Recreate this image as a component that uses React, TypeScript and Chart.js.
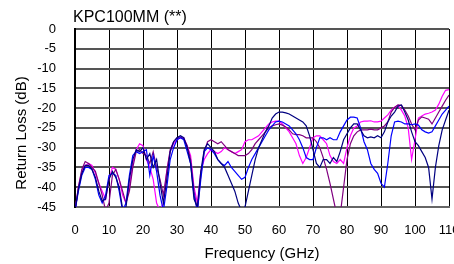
import React, { useEffect, useRef } from "react";
import { Chart, registerables } from "chart.js";

Chart.register(...registerables);

const TITLE = "KPC100MM (**)";
const X_TITLE = "Frequency (GHz)";
const Y_TITLE = "Return Loss (dB)";

const freqs = [
  0, 1, 2, 3, 4, 5, 6, 7, 8, 9, 10, 11, 12, 13, 14, 15, 16, 17, 18, 19, 20,
  21, 22, 23, 24, 25, 26, 27, 28, 29, 30, 31, 32, 33, 34, 35, 36, 37, 38, 39, 40,
  41, 42, 43, 44, 45, 46, 47, 48, 49, 50, 51, 52, 53, 54, 55, 56, 57, 58, 59, 60,
  61, 62, 63, 64, 65, 66, 67, 68, 69, 70, 71, 72, 73, 74, 75, 76, 77, 78, 79, 80,
  81, 82, 83, 84, 85, 86, 87, 88, 89, 90, 91, 92, 93, 94, 95, 96, 97, 98, 99, 100,
  101, 102, 103, 104, 105, 106, 107, 108, 109, 110,
];

const magenta = [
  -46, -40, -36, -34.5, -34, -34.5, -36.5, -39, -41, -43, -38,
  -35, -35.5, -38, -42, -44, -40, -34, -30.5, -29, -29.5,
  -33, -35, -38, -44, -46, -44, -36, -31, -29, -28,
  -27.5, -27.5, -29.5, -32, -40, -44, -36, -33, -31.5, -30.5,
  -31, -31.5, -31, -30, -30.5, -31, -31.5, -31, -30.5, -28.5,
  -28, -28, -27.5, -27, -26, -25, -24, -23.5, -23.3, -23.3,
  -24, -25, -26, -27.5, -29, -32, -34, -32.5, -30, -27.5,
  -27, -27, -28, -29, -32, -33.5, -34, -33, -34, -30,
  -27, -25, -24.5, -23.5, -23.3, -23.3, -23.2, -23.5, -23.5, -23.3,
  -22.5, -21.7, -20.5, -19.8, -19.3, -20.5, -22, -25, -33, -28,
  -22.5, -22, -21.5, -21.3, -21, -20.5, -19, -17, -15.5, -15.3,
];

const purple = [
  -46, -40, -35.5, -33.5, -34, -35, -36, -39, -42, -46, -44,
  -37, -35.5, -38, -41, -44, -41, -35, -31, -30.5, -31.5,
  -32, -34, -31, -35, -38, -42, -36, -30.5, -28.5, -27.5,
  -27.3, -27.8, -29.5, -33, -41, -46, -37, -31, -28.5, -28,
  -28.5, -29, -28.5, -29.5, -30.5, -31, -31.5, -32, -32, -32,
  -31.5, -30.5, -29, -28, -27, -26, -25, -24.5, -24.2, -24,
  -24.3, -24.8, -25.5, -26.5, -26.7, -26.7, -27, -27.5, -27.5, -27.5,
  -28.5, -30, -32.5, -35.5, -39, -43, -47, -47, -40, -33,
  -29, -27, -26, -25.5, -25.5, -25.5, -25.3, -25.5, -25.5, -25,
  -24.5, -23.5, -21, -19.8, -19.2, -19.3, -20.5, -22, -24, -25.5,
  -23, -22.2, -22.5, -22.8, -24, -22.5, -21, -19.5, -18, -16.7,
];

const blue = [
  -46, -41, -37, -35, -35, -35.5, -38, -42, -44, -42, -37,
  -36.5, -37, -41, -46, -44, -37, -32, -31, -31.5, -31,
  -30.5, -37, -32, -36, -42, -46, -40, -33, -30, -28,
  -27.5, -28, -31, -34, -42, -46, -38, -31, -30, -30.5,
  -31.5, -33, -34, -34.5, -33.5, -35, -36, -37, -38, -37.5,
  -35, -33, -31.5, -30, -28.5, -27, -25.5, -24.5, -23.5, -23.3,
  -23.5, -24, -24.5, -25.5, -26.5, -28, -30, -32.5, -33, -33,
  -30, -27.5, -27.5, -28, -27.5, -28, -28, -26, -24.5, -23,
  -22.3, -22.3, -22.5, -25, -28.5, -30.5, -34, -35.5, -36.5, -39,
  -40, -34, -27, -23.5, -23.3, -23.5, -24, -24, -24.2, -24,
  -24.3, -25.5, -26, -26.3, -26, -24.5, -23, -21.5, -20.5, -19.5,
];

const navy = [
  -46, -40.5, -36.5, -34.5, -34.5, -35.5, -37.5, -41, -43.5, -43, -38,
  -36, -37.5, -40, -45.5, -45, -38, -33, -30.5, -31, -30,
  -33, -31.5, -35, -33, -39, -44, -38, -31, -28.5, -27.5,
  -27, -27.5, -30, -34, -43, -45, -36, -30.5, -29, -30,
  -31, -33, -34, -35, -37, -39, -41, -44, -46, -45,
  -41, -37, -33, -30, -28, -26, -24.5, -22.5, -21.5, -21,
  -21, -21.2, -21.5, -22, -22.5, -23, -23.5, -24.5, -27, -30.5,
  -34, -35, -33, -33, -34, -32.5, -33.5, -31, -28, -26.5,
  -25, -24, -24, -25.5, -27, -27.5, -27.3, -27.5, -27, -27.5,
  -26, -23.5, -22, -21, -19.5, -19.2, -21, -23, -26, -28.5,
  -29.5, -31, -32.5, -35, -43, -35, -29.5, -25.5, -23, -20.5,
];

const xTicks = [0, 10, 20, 30, 40, 50, 60, 70, 80, 90, 100, 110];
const yTicks = [0, -5, -10, -15, -20, -25, -30, -35, -40, -45];

const FONT = '"Liberation Sans", Arial, sans-serif';

const textPlugin = {
  id: "texts",
  afterDraw(chart: any) {
    const { ctx, chartArea } = chart;
    ctx.save();
    ctx.fillStyle = "#000";
    ctx.font = `16px ${FONT}`;
    ctx.textAlign = "left";
    ctx.textBaseline = "alphabetic";
    ctx.fillText(TITLE, chartArea.left - 2, 22);
    ctx.font = `15px ${FONT}`;
    ctx.textAlign = "center";
    ctx.fillText(X_TITLE, (chartArea.left + chartArea.right) / 2, 258);
    ctx.translate(26, 133);
    ctx.rotate(-Math.PI / 2);
    ctx.fillText(Y_TITLE, 0, 0);
    ctx.restore();
  },
};

function toPoints(vals: number[]) {
  return freqs.map((f, i) => ({ x: f, y: vals[i] }));
}

export default function App() {
  const ref = useRef<HTMLCanvasElement>(null);
  useEffect(() => {
    if (!ref.current) return;
    const mk = (label: string, vals: number[], color: string) => ({
      label,
      data: toPoints(vals),
      borderColor: color,
      backgroundColor: color,
      borderWidth: 1.2,
      pointRadius: 0,
      tension: 0,
      fill: false,
    });
    const chart = new Chart(ref.current, {
      type: "line",
      data: {
        datasets: [
          mk("navy", navy, "#000080"),
          mk("blue", blue, "#0000ff"),
          mk("purple", purple, "#800080"),
          mk("magenta", magenta, "#ff00ff"),
        ],
      },
      options: {
        animation: false,
        responsive: false,
        devicePixelRatio: 1,
        layout: { padding: { top: 29, right: 31, left: 0, bottom: 0 } },
        plugins: {
          legend: { display: false },
          title: { display: false },
          tooltip: { enabled: false },
        },
        scales: {
          x: {
            type: "linear",
            min: 0,
            max: 110,
            afterBuildTicks: (s: any) => {
              s.ticks = xTicks.map((v) => ({ value: v }));
            },
            afterFit: (s: any) => {
              s.height = 57;
            },
            ticks: {
              font: { family: FONT, size: 13 },
              color: "#000",
              padding: 16,
              maxRotation: 0,
              autoSkip: false,
            },
            grid: { color: "#000", lineWidth: 1, drawTicks: false },
            border: { display: true, color: "#666", width: 2 },
          },
          y: {
            type: "linear",
            min: -45,
            max: 0,
            afterBuildTicks: (s: any) => {
              s.ticks = yTicks.map((v) => ({ value: v }));
            },
            afterFit: (s: any) => {
              s.width = 75;
            },
            ticks: {
              font: { family: FONT, size: 13 },
              color: "#000",
              padding: 19,
              autoSkip: false,
            },
            grid: { color: "#555", lineWidth: 2, drawTicks: false },
            border: { display: true, color: "#000", width: 2 },
          },
        },
      },
      plugins: [textPlugin],
    });
    return () => chart.destroy();
  }, []);
  return (
    <div
      style={{
        position: "absolute",
        left: 0,
        top: 0,
        width: 454,
        height: 264,
        overflow: "hidden",
        background: "#fff",
      }}
    >
      <canvas ref={ref} width={480} height={264} style={{ width: 480, height: 264 }} />
    </div>
  );
}
